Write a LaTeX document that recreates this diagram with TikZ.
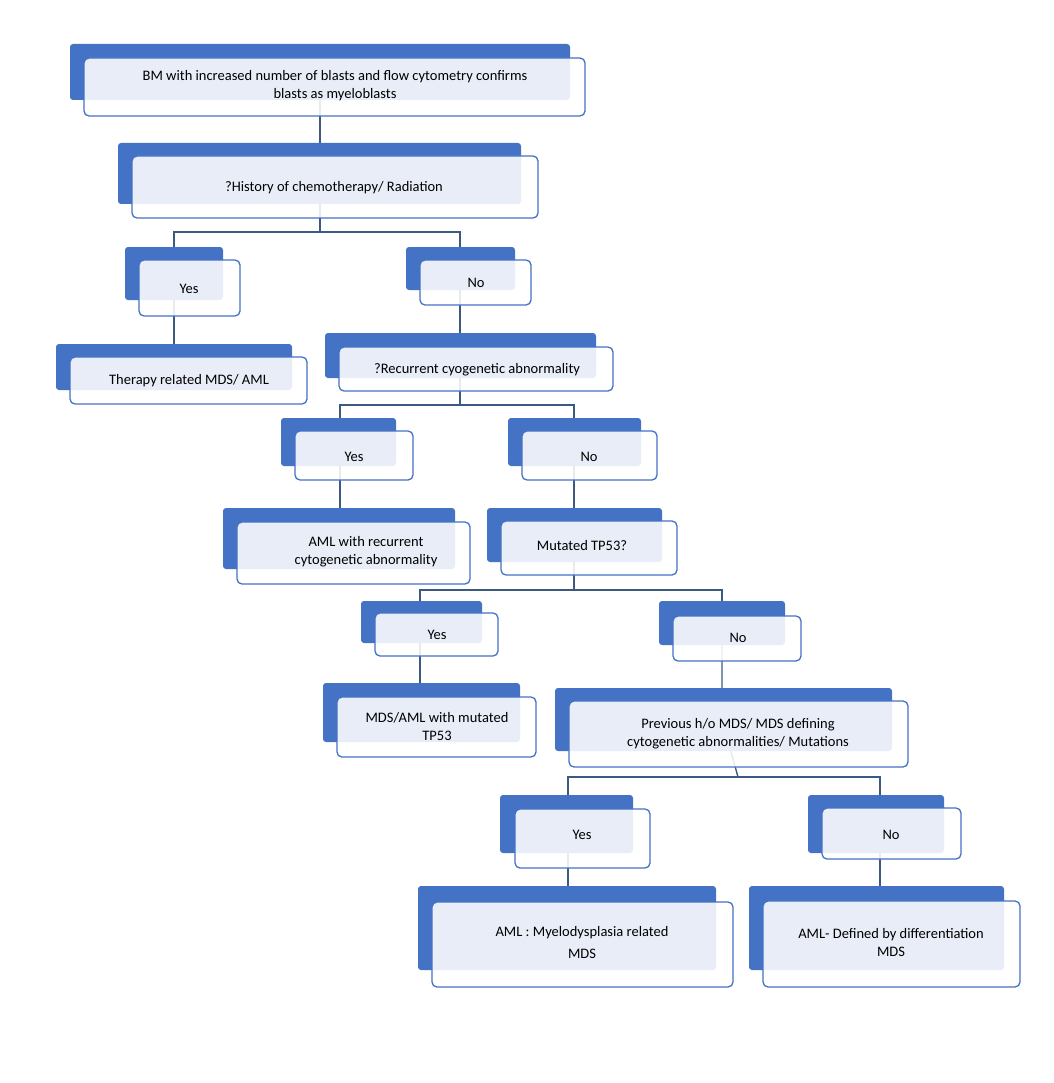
\documentclass[tikz,border=0pt]{standalone}
\usepackage{fontspec}
\setmainfont{Carlito}
\begin{document}
\begin{tikzpicture}[x=1pt,y=-1pt,
  back/.style={fill=blue1,draw=none,rounded corners=3pt,inner sep=0pt},
  front/.style={fill=white,fill opacity=0.88,text opacity=1,draw=blue1,line width=1.3pt,rounded corners=5pt,inner sep=0pt,align=center,font=\fontsize{14.5}{18}\selectfont},
  conn/.style={draw=lineblue,line width=1.4pt}]
\definecolor{blue1}{HTML}{4472C4}
\definecolor{lineblue}{HTML}{3C5A80}
\useasboundingbox (0,0) rectangle (1053,1083);
\newcommand{\bx}[9]{%
  \node[back,minimum width={#4-#2},minimum height={#5-#3}] (b#1) at ({(#2+#4)/2},{(#3+#5)/2}) {};
  \node[front,minimum width={#8-#6},minimum height={#9-#7}] (f#1) at ({(#6+#8)/2},{(#7+#9)/2}) {};}
% connectors first
\coordinate (j1) at (320,232);
\coordinate (j2) at (460,405);
\coordinate (j3) at (574,590);
\coordinate (j4) at (738,777);
\begin{scope}
\path (320,72) coordinate (c1) (320,174) coordinate (c2) (174,274) coordinate (cy1) (460,268) coordinate (cn1)
 (174,367) coordinate (cth) (460,355) coordinate (crec) (340,442) coordinate (cy2) (574,442) coordinate (cn2)
 (340,538) coordinate (caml) (574,535) coordinate (ctp) (420,622) coordinate (cy3) (722,623) coordinate (cn3)
 (420,712) coordinate (cmds) (722,719) coordinate (cprev) (568,824) coordinate (cy4) (880,824) coordinate (cn4)
 (568,928) coordinate (cmr) (880,928) coordinate (cdef);
\draw[conn] (c1)--(c2)--(j1);
\draw[conn] (cy1) |- (j1) -| (cn1);
\draw[conn] (cy1)--(cth);
\draw[conn] (cn1)--(crec)--(j2);
\draw[conn] (cy2) |- (j2) -| (cn2);
\draw[conn] (cy2)--(caml);
\draw[conn] (cn2)--(ctp)--(j3);
\draw[conn] (cy3) |- (j3) -| (cn3);
\draw[conn] (cy3)--(cmds);
\draw[conn] (cn3)--(cprev)--(j4);
\draw[conn] (cy4) |- (j4) -| (cn4);
\draw[conn] (cy4)--(cmr);
\draw[conn] (cn4)--(cdef);
\end{scope}
\bx{1}{70}{44}{570}{100}{84}{58}{585}{116}
\bx{2}{118}{143}{521}{204}{132}{156}{538}{218}
\bx{3}{125}{247}{223}{300}{139}{260}{240}{316}
\bx{4}{406}{247}{515}{290}{420}{260}{531}{305}
\bx{5}{56}{344}{292}{390}{70}{357}{307}{404}
\bx{6}{325}{333}{596}{378}{339}{347}{613}{391}
\bx{7}{281}{418}{396}{466}{295}{431}{413}{480}
\bx{8}{508}{418}{641}{466}{522}{431}{657}{480}
\bx{9}{223}{508}{455}{569}{237}{522}{470}{584}
\bx{10}{487}{508}{662}{562}{501}{521}{677}{575}
\bx{11}{361}{601}{482}{643}{375}{613}{498}{656}
\bx{12}{659}{601}{785}{645}{673}{616}{801}{661}
\bx{13}{323}{683}{520}{742}{337}{697}{536}{757}
\bx{14}{555}{688}{892}{751}{569}{701}{908}{767}
\bx{15}{500}{795}{633}{853}{515}{809}{650}{868}
\bx{16}{808}{795}{944}{853}{822}{808}{961}{859}
\bx{17}{418}{886}{716}{970}{432}{902}{733}{987}
\bx{18}{749}{886}{1004}{970}{763}{901}{1020}{987}
\tikzset{lbl/.style={align=center,font=\fontsize{14.5}{18}\selectfont,inner sep=0pt}}
\node[lbl] (t1) at (335,86) {BM with increased number of blasts and flow cytometry confirms\\blasts as myeloblasts};
\node[lbl] (t2) at (334,188) {?History of chemotherapy/ Radiation};
\node[lbl] (t3) at (189,289) {Yes};
\node[lbl] (t4) at (476,283) {No};
\node[lbl] (t5) at (189,381) {Therapy related MDS/ AML};
\node[lbl] (t6) at (477,370) {?Recurrent cyogenetic abnormality};
\node[lbl] (t7) at (354,457) {Yes};
\node[lbl] (t8) at (589,457) {No};
\node[lbl] (t9) at (366,552) {AML with recurrent\\cytogenetic abnormality};
\node[lbl] (t10) at (582,546) {Mutated TP53?};
\node[lbl] (t11) at (437,635) {Yes};
\node[lbl] (t12) at (738,638) {No};
\node[lbl] (t13) at (437,727) {MDS/AML with mutated\\TP53};
\node[lbl] (t14) at (738,734) {Previous h/o MDS/ MDS defining\\cytogenetic abnormalities/ Mutations};
\node[lbl] (t15) at (582,835) {Yes};
\node[lbl] (t16) at (891,835) {No};
\node[lbl] (t17) at (582,943) {AML : Myelodysplasia related\\[4pt]MDS};
\node[lbl] (t18) at (891,943) {AML- Defined by differentiation\\MDS};
\end{tikzpicture}
\end{document}
